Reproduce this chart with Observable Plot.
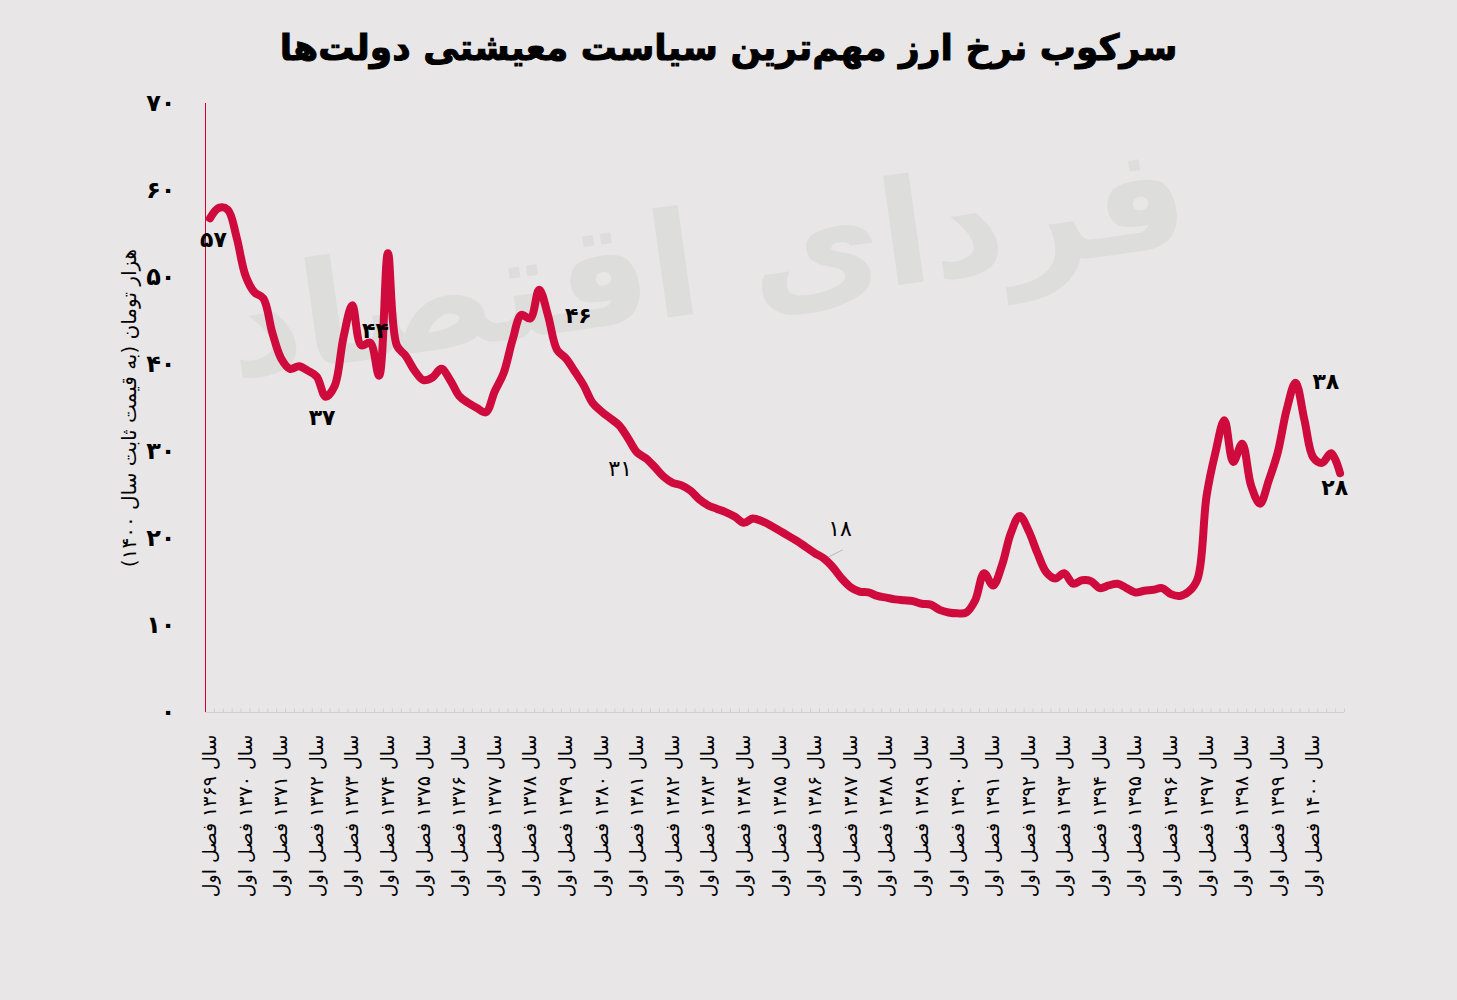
<!DOCTYPE html>
<html>
<head>
<meta charset="utf-8">
<script src="https://cdn.jsdelivr.net/npm/d3@7"></script>
<script src="https://cdn.jsdelivr.net/npm/@observablehq/plot@0.6"></script>
<style>
  html, body { margin: 0; padding: 0; background: #e8e6e7; }
  #wrap { position: relative; width: 1457px; height: 1000px; overflow: hidden; background: #e8e6e7; font-family: "DejaVu Sans", sans-serif; }
  #wm { position: absolute; left: 330px; top: 160px; width: 860px; text-align: center; font-size: 145px; font-weight: bold; color: #dddddb; direction: rtl; transform: rotate(-8deg); white-space: nowrap; line-height: 1.3; }
  #title { position: absolute; left: 0; top: 20px; width: 1457px; text-align: center; font-size: 36px; font-weight: bold; color: #000; direction: rtl; line-height: 56px; -webkit-text-stroke: 1px #000; }
  #chart { position: absolute; left: 0; top: 60px; }
</style>
</head>
<body>
<div id="wrap">
  <div id="wm">فردای اقتصاد</div>
  <div id="title">سرکوب نرخ ارز مهم‌ترین سیاست معیشتی دولت‌ها</div>
  <div id="chart"></div>
</div>
<script>
// Years (each has four quarters; tick labels at the first quarter)
const years = [1369,1370,1371,1372,1373,1374,1375,1376,1377,1378,1379,1380,1381,1382,1383,1384,
               1385,1386,1387,1388,1389,1390,1391,1392,1393,1394,1395,1396,1397,1398,1399,1400];

// Quarterly real exchange rate (thousand tomans, constant 1400 prices), 1369 Q1 .. 1400 Q4
const values = [
  56.8, 58.0, 57.8, 54.6, 50.2, 48.3, 47.6, 43.7, 40.7, 39.5, 39.8, 39.3, 38.6, 36.3, 37.5, 43.1,
  46.8, 42.2, 42.5, 38.7, 52.8, 42.2, 41.0, 39.3, 38.2, 38.5, 39.5, 38.2, 36.4, 35.6, 35.0, 34.5,
  36.9, 39.0, 42.8, 45.7, 45.3, 48.6, 45.6, 41.7, 40.7, 39.2, 37.6, 35.6, 34.6, 33.8, 33.0, 31.5,
  29.9, 29.2, 28.2, 27.1, 26.4, 26.1, 25.5, 24.5, 23.8, 23.4, 23.0, 22.5, 21.8, 22.3, 22.0, 21.5,
  20.9, 20.3, 19.7, 19.0, 18.3, 17.7, 16.7, 15.4, 14.4, 13.9, 13.8, 13.4, 13.2, 13.0, 12.9, 12.8,
  12.5, 12.4, 11.8, 11.5, 11.4, 11.5, 12.9, 16.0, 14.6, 16.9, 20.6, 22.6, 20.9, 18.3, 16.1, 15.4,
  16.0, 14.8, 15.2, 15.1, 14.3, 14.6, 14.8, 14.3, 13.8, 14.0, 14.1, 14.3, 13.6, 13.4, 13.9, 15.4,
  24.9, 29.9, 33.6, 28.8, 30.9, 26.1, 24.0, 26.7, 29.9, 34.8, 37.9, 33.6, 29.3, 28.7, 29.8, 27.5
];

// Y-axis ticks
const yTicks = [0, 10, 20, 30, 40, 50, 60, 70];

// Annotation labels (value text, quarter index, value position)
const annText  = [57, 37, 44, 46, 31, 18, 38, 28];
const annIndex = [0.4, 12.6, 18.6, 41.4, 46.1, 70.8, 125.4, 126.4];
const annValue = [54.3, 33.9, 43.9, 45.6, 28.0, 21.1, 38.0, 25.8];
const annBold  = [true, true, true, true, false, false, true, true];

const yLabel = "هزار تومان (به قیمت ثابت سال ۱۴۰۰)";

const faDigits = "۰۱۲۳۴۵۶۷۸۹";
const fa = n => String(n).replace(/\d/g, d => faDigits[+d]);
const rtl = s => "\u202B" + s + "\u202C";

const yearLabels = years.map(y => rtl("سال " + fa(y) + " فصل اول"));

const series = values.map((v, i) => ({i, v}));
const boundaries = d3.range(0, values.length + 1).map(i => i - 0.5);
const yearIdx = years.map((_, k) => k * 4);
const ann = annText.map((t, k) => ({t: fa(t), i: annIndex[k], v: annValue[k], b: annBold[k]}));

const FONT = "DejaVu Sans, sans-serif";
const RED = "#cf0a3c";

const chart = Plot.plot({
  width: 1457,
  height: 940,
  marginLeft: 205,
  marginRight: 113,
  marginTop: 43,
  marginBottom: 288,
  style: {background: "transparent", fontFamily: FONT, color: "#000", overflow: "visible"},
  x: {type: "linear", domain: [-0.5, values.length - 0.5], axis: null},
  y: {domain: [0, 70], axis: null},
  marks: [
    // x baseline and quarter minor ticks
    Plot.ruleY([0], {stroke: "#cfcfcf", strokeWidth: 1}),
    Plot.ruleX(boundaries, {y1: 0, y2: 0.4, stroke: "#cfcfcf", strokeWidth: 1}),
    // red vertical axis line
    Plot.ruleX([-0.5], {y1: 0, y2: 70, stroke: "#d4002f", strokeWidth: 1}),
    // x tick labels
    Plot.axisX({
      ticks: yearIdx,
      tickFormat: i => yearLabels[i / 4],
      tickRotate: -90,
      tickSize: 0,
      tickPadding: 22,
      fontSize: 19,
      fontFamily: FONT,
      fill: "#000",
      label: null
    }),
    // y tick labels
    Plot.axisY({
      ticks: yTicks,
      tickFormat: fa,
      tickSize: 0,
      tickPadding: 30,
      fontSize: 24,
      fontWeight: "bold",
      fontFamily: FONT,
      fill: "#000",
      label: null
    }),
    // y axis title
    Plot.text([rtl(yLabel)], {x: -9.0, y: 35, text: d => d, rotate: -90, fontSize: 20, fontFamily: FONT, fill: "#000"}),
    // leader line for the 18 label
    Plot.link([{x1: 69.2, y1: 17.7, x2: 71.1, y2: 18.7}], {x1: "x1", y1: "y1", x2: "x2", y2: "y2", stroke: "#b8b8b8", strokeWidth: 1}),
    // the data line
    Plot.line(series, {x: "i", y: "v", stroke: RED, strokeWidth: 8, curve: "catmull-rom", strokeLinecap: "round", strokeLinejoin: "round"}),
    // annotations
    Plot.text(ann.filter(d => d.b), {x: "i", y: "v", text: "t", fontSize: 22, fontWeight: "bold", fontFamily: FONT, fill: "#000"}),
    Plot.text(ann.filter(d => !d.b), {x: "i", y: "v", text: "t", fontSize: 22, fontFamily: FONT, fill: "#000"})
  ]
});
document.getElementById("chart").appendChild(chart);
</script>
</body>
</html>
